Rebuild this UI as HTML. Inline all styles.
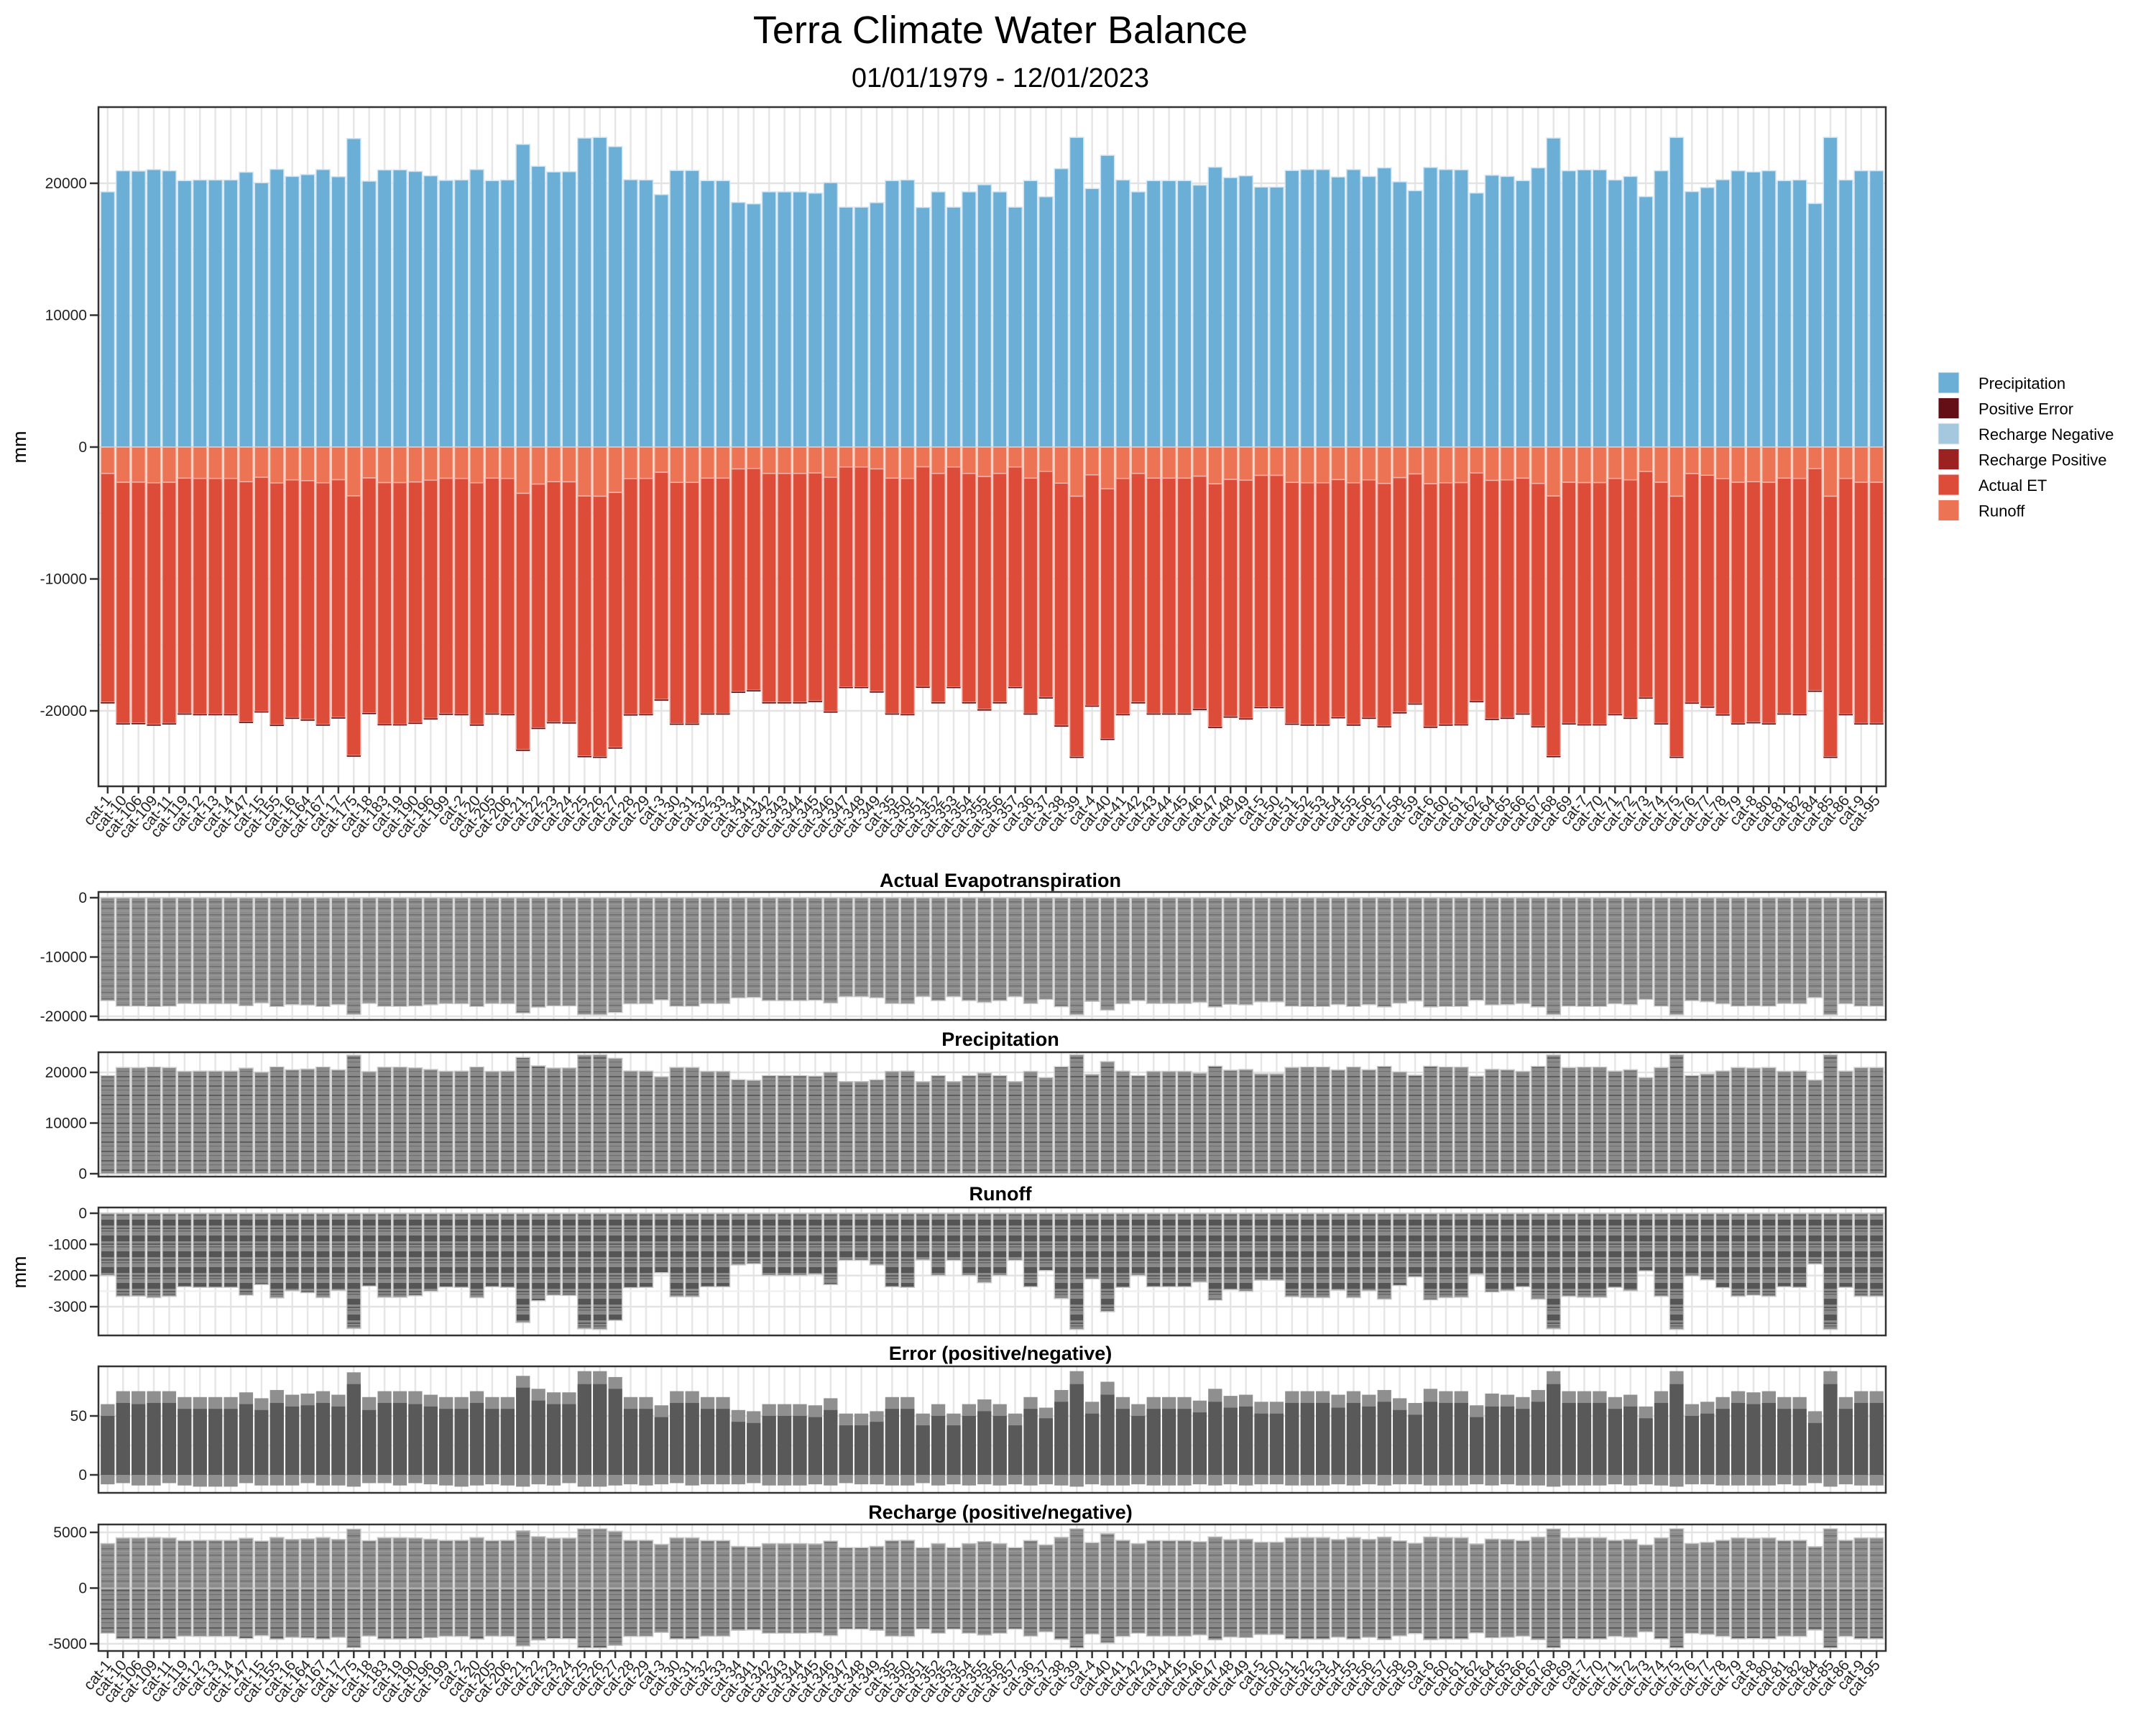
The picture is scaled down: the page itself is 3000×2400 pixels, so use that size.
<!DOCTYPE html>
<html><head><meta charset="utf-8"><title>Terra Climate Water Balance</title>
<style>html,body{margin:0;padding:0;background:#fff}svg{display:block;font-family:"Liberation Sans",Arial,sans-serif}</style>
</head><body>
<svg id="chart" xmlns="http://www.w3.org/2000/svg" width="3000" height="2400" viewBox="0 0 3000 2400">
<defs>
<pattern id="stripeLight" patternUnits="userSpaceOnUse" width="8" height="9"><rect width="8" height="9" fill="#8c8c8c"/><rect y="3" width="8" height="1.5" fill="#6e6e6e"/><rect y="7" width="8" height="1" fill="#9a9a9a"/></pattern>
<pattern id="stripePrecip" patternUnits="userSpaceOnUse" width="8" height="13"><rect width="8" height="13" fill="#8a8a8a"/><rect y="2" width="8" height="2" fill="#5e5e5e"/><rect y="8" width="8" height="1.2" fill="#707070"/></pattern>
<pattern id="stripeRunoff" patternUnits="userSpaceOnUse" width="8" height="22"><rect width="8" height="22" fill="#8a8a8a"/><rect y="3" width="8" height="8" fill="#555"/><rect y="14" width="8" height="2" fill="#5c5c5c"/><rect y="18" width="8" height="1.5" fill="#666"/></pattern>
</defs>
<text x="1392" y="60" font-size="54" text-anchor="middle" fill="#000">Terra Climate Water Balance</text>
<text x="1392" y="121" font-size="38" text-anchor="middle" fill="#000">01/01/1979 - 12/01/2023</text>
<g id="main"></g>
<g id="small"></g>
<g id="legend"></g>
</svg>
<script>
const categories = ["cat-1","cat-10","cat-106","cat-109","cat-11","cat-119","cat-12","cat-13","cat-14","cat-147","cat-15","cat-155","cat-16","cat-164","cat-167","cat-17","cat-175","cat-18","cat-183","cat-19","cat-190","cat-196","cat-199","cat-2","cat-20","cat-205","cat-206","cat-21","cat-22","cat-23","cat-24","cat-25","cat-26","cat-27","cat-28","cat-29","cat-3","cat-30","cat-31","cat-32","cat-33","cat-34","cat-341","cat-342","cat-343","cat-344","cat-345","cat-346","cat-347","cat-348","cat-349","cat-35","cat-350","cat-351","cat-352","cat-353","cat-354","cat-355","cat-356","cat-357","cat-36","cat-37","cat-38","cat-39","cat-4","cat-40","cat-41","cat-42","cat-43","cat-44","cat-45","cat-46","cat-47","cat-48","cat-49","cat-5","cat-50","cat-51","cat-52","cat-53","cat-54","cat-55","cat-56","cat-57","cat-58","cat-59","cat-6","cat-60","cat-61","cat-62","cat-64","cat-65","cat-66","cat-67","cat-68","cat-69","cat-7","cat-70","cat-71","cat-72","cat-73","cat-74","cat-75","cat-76","cat-77","cat-78","cat-79","cat-8","cat-80","cat-81","cat-82","cat-84","cat-85","cat-86","cat-9","cat-95"];
const precipitation = [19350,20950,20930,21040,20950,20200,20250,20250,20250,20840,20040,21060,20520,20660,21040,20500,23390,20160,21010,21020,20900,20570,20220,20250,21040,20200,20250,22950,21290,20860,20880,23430,23480,22780,20270,20250,19140,20970,20970,20200,20200,18550,18440,19350,19350,19350,19250,20050,18190,18190,18530,20200,20250,18170,19350,18190,19350,19890,19350,18190,20200,18980,21110,23480,19600,22120,20250,19350,20200,20200,20200,19860,21220,20430,20570,19710,19710,20970,21040,21040,20480,21040,20520,21170,20110,19440,21200,21040,21020,19260,20610,20520,20200,21170,23430,20950,21020,21020,20250,20520,18990,20950,23480,19370,19680,20270,20950,20860,20950,20200,20250,18470,23480,20250,20950,20950];
const runoff = [2000,2670,2660,2710,2670,2360,2380,2380,2380,2630,2290,2720,2490,2550,2710,2480,3700,2340,2700,2700,2650,2510,2370,2380,2710,2360,2380,3510,2810,2630,2640,3710,3730,3440,2390,2380,1910,2680,2680,2360,2360,1660,1620,2000,2000,2000,1960,2290,1510,1510,1660,2360,2380,1500,2000,1510,2000,2230,2000,1510,2360,1840,2740,3730,2110,3160,2380,2000,2360,2360,2360,2210,2790,2450,2510,2150,2150,2680,2710,2710,2470,2710,2490,2760,2320,2040,2780,2710,2700,1960,2530,2490,2360,2760,3710,2670,2700,2700,2380,2490,1850,2670,3730,2010,2140,2390,2670,2630,2670,2360,2380,1630,3730,2380,2670,2670];
const actualET = [17350,18280,18270,18330,18280,17840,17870,17870,17870,18210,17750,18340,18030,18110,18330,18020,19690,17820,18310,18320,18250,18060,17850,17870,18330,17840,17870,19440,18480,18230,18240,19720,19750,19340,17880,17870,17230,18290,18290,17840,17840,16890,16820,17350,17350,17350,17290,17760,16680,16680,16870,17840,17870,16670,17350,16680,17350,17660,17350,16680,17840,17140,18370,19750,17490,18960,17870,17350,17840,17840,17840,17650,18430,17980,18060,17560,17560,18290,18330,18330,18010,18330,18030,18410,17790,17400,18420,18330,18320,17300,18080,18030,17840,18410,19720,18280,18320,18320,17870,18030,17140,18280,19750,17360,17540,17880,18280,18230,18280,17840,17870,16840,19750,17870,18280,18280];
const errorPositive = [60,71,71,71,71,66,66,66,66,70,65,72,68,69,71,68,87,66,71,71,71,68,66,66,71,66,66,84,73,70,70,88,88,83,66,66,59,71,71,66,66,55,54,60,60,60,59,65,52,52,54,66,66,52,60,52,60,64,60,52,66,57,72,88,62,79,66,60,66,66,66,63,73,67,68,62,62,71,71,71,68,71,68,72,65,61,73,71,71,59,69,68,66,72,88,71,71,71,66,68,58,71,88,60,62,66,71,70,71,66,66,54,88,66,71,71];
const errorCore = [50,61,60,61,61,56,56,56,56,60,55,61,58,59,61,58,77,55,61,61,60,58,56,56,61,56,56,74,63,60,60,77,77,73,56,56,49,61,61,56,56,45,44,50,50,50,49,55,42,42,45,56,56,42,50,42,50,54,50,42,56,48,62,77,52,68,56,50,56,56,56,53,62,57,58,52,52,61,61,61,57,61,58,62,55,51,62,61,61,49,58,58,56,62,77,61,61,61,56,58,48,61,77,50,52,56,61,60,61,56,56,44,77,56,61,61];
const errorNegative = [-8,-7,-9,-9,-7,-9,-10,-10,-10,-7,-9,-9,-9,-7,-9,-9,-10,-7,-7,-9,-7,-8,-9,-10,-9,-8,-9,-10,-8,-9,-7,-10,-10,-9,-8,-9,-8,-7,-9,-8,-8,-8,-7,-9,-9,-9,-8,-9,-7,-8,-8,-9,-9,-7,-9,-8,-9,-8,-9,-8,-9,-8,-9,-10,-8,-9,-9,-8,-9,-9,-9,-8,-9,-8,-9,-8,-8,-9,-9,-9,-8,-9,-8,-9,-8,-8,-9,-9,-9,-8,-9,-8,-9,-9,-10,-9,-9,-9,-8,-9,-8,-9,-10,-8,-8,-9,-9,-9,-9,-8,-9,-7,-10,-8,-9,-9];
const rechargePositive = [4000,4510,4510,4540,4510,4270,4290,4290,4290,4480,4220,4550,4370,4420,4540,4370,5290,4260,4530,4530,4500,4390,4280,4290,4540,4270,4290,5150,4620,4480,4490,5310,5320,5100,4290,4290,3930,4520,4520,4270,4270,3740,3710,4000,4000,4000,3970,4220,3630,3630,3740,4270,4290,3620,4000,3630,4000,4170,4000,3630,4270,3880,4560,5320,4080,4890,4290,4000,4270,4270,4270,4160,4600,4350,4390,4120,4120,4520,4540,4540,4360,4540,4370,4580,4240,4030,4590,4540,4530,3970,4400,4370,4270,4580,5310,4510,4530,4530,4290,4370,3880,4510,5320,4010,4110,4290,4510,4480,4510,4270,4290,3720,5320,4290,4510,4510];
const rechargeNegative = [-4050,-4560,-4560,-4590,-4560,-4320,-4340,-4340,-4340,-4530,-4270,-4600,-4420,-4470,-4590,-4420,-5340,-4310,-4580,-4580,-4550,-4440,-4330,-4340,-4590,-4320,-4340,-5200,-4670,-4530,-4540,-5360,-5370,-5150,-4340,-4340,-3980,-4570,-4570,-4320,-4320,-3790,-3760,-4050,-4050,-4050,-4020,-4270,-3680,-3680,-3790,-4320,-4340,-3670,-4050,-3680,-4050,-4220,-4050,-3680,-4320,-3930,-4610,-5370,-4130,-4940,-4340,-4050,-4320,-4320,-4320,-4210,-4650,-4400,-4440,-4170,-4170,-4570,-4590,-4590,-4410,-4590,-4420,-4630,-4290,-4080,-4640,-4590,-4580,-4020,-4450,-4420,-4320,-4630,-5360,-4560,-4580,-4580,-4340,-4420,-3930,-4560,-5370,-4060,-4160,-4340,-4560,-4530,-4560,-4320,-4340,-3770,-5370,-4340,-4560,-4560];
const mainTicks = [20000,10000,0,-10000,-20000];
const etTicks = [0,-10000,-20000];
const precipTicks = [20000,10000,0];
const runoffTicks = [0,-1000,-2000,-3000];
const errorTicks = [50,0];
const rechargeTicks = [5000,0,-5000];
const legendLabels = ["Precipitation","Positive Error","Recharge Negative","Recharge Positive","Actual ET","Runoff"];
const legendColors = ["#6baed6","#640e15","#a6c8de","#9b2220","#dd4b39","#ec7354"];

const NS = "http://www.w3.org/2000/svg";
const PL = 137, PR = 2624;
const n = categories.length;
const step = (PR - PL) / (n - 1 + 1.2);
const xC = i => PL + step * (0.6 + i);
const bw = step * 0.9;

function mk(tag, attrs, parent, text) {
  const e = document.createElementNS(NS, tag);
  for (const k in attrs) e.setAttribute(k, attrs[k]);
  if (text !== undefined) e.textContent = text;
  parent.appendChild(e);
  return e;
}
function linScale(v0, p0, v1, p1) { return v => p0 + (v - v0) * (p1 - p0) / (v1 - v0); }

function drawFrame(g, top, bottom, y, ticks, name, minor) {
  const bg = mk('rect', {x: PL, y: top, width: PR - PL, height: bottom - top, fill: '#fff'}, g);
  
  
  for (let i = 0; i < n; i++) {
    const l = mk('line', {x1: xC(i), x2: xC(i), y1: top, y2: bottom, stroke: '#e6e6e6', 'stroke-width': 2.5}, g);
    
    
  }
  const all = ticks.slice();
  if (minor) for (let k = 0; k < ticks.length - 1; k++) all.push((ticks[k] + ticks[k + 1]) / 2);
  all.forEach((t, k) => {
    const yy = y(t);
    if (yy < top || yy > bottom) return;
    const l = mk('line', {x1: PL, x2: PR, y1: yy, y2: yy, stroke: k < ticks.length ? '#e3e3e3' : '#f0f0f0', 'stroke-width': 2.5}, g);
    
    
  });
}
function drawAxes(g, top, bottom, y, ticks, name, fs) {
  const fr = mk('rect', {x: PL, y: top, width: PR - PL, height: bottom - top, fill: 'none', stroke: '#333', 'stroke-width': 2.5}, g);
  
  
  ticks.forEach(t => {
    const yy = y(t);
    const tk = mk('line', {x1: PL - 12, x2: PL, y1: yy, y2: yy, stroke: '#333', 'stroke-width': 2.5}, g);
    
    
    const tl = mk('text', {x: PL - 16, y: yy + 7, 'font-size': fs || 21, 'text-anchor': 'end', fill: '#222'}, g, String(t));
    
    
  });
}
function drawXLabels(g, bottom) {
  for (let i = 0; i < n; i++) {
    const tk = mk('line', {x1: xC(i), x2: xC(i), y1: bottom, y2: bottom + 10, stroke: '#333', 'stroke-width': 2.5}, g);
    
    
    const t = mk('text', {x: xC(i) + 6, y: bottom + 20, 'font-size': 21, 'text-anchor': 'end', fill: '#222',
      transform: `rotate(-50 ${xC(i) + 6} ${bottom + 20})`}, g, categories[i]);
    
    
  }
}
function bar(g, i, y, v0, v1, fill, name, stroke) {
  const a = y(v0), b = y(v1);
  const r = mk('rect', {x: xC(i) - bw / 2, y: Math.min(a, b), width: bw, height: Math.abs(a - b), fill: fill,
    stroke: stroke || 'none', 'stroke-width': 1.5}, g);
  
  
  return r;
}

// ---------- main panel ----------
const main = document.getElementById('main');
const mTop = 149, mBot = 1094;
const yM = linScale(20000, 255, -20000, 989);
drawFrame(main, mTop, mBot, yM, mainTicks, 'main-panel', true);
for (let i = 0; i < n; i++) {
  bar(main, i, yM, 0, precipitation[i], '#6baed6', 'precipitation-bar', '#cfe3f0');
  bar(main, i, yM, 0, -runoff[i], '#ec7354', 'runoff-bar', '#f6c2b2');
  bar(main, i, yM, -runoff[i], -(runoff[i] + actualET[i]), '#dd4b39', 'actual-et-bar', '#f1b3aa');
  bar(main, i, yM, -(runoff[i] + actualET[i]), -(runoff[i] + actualET[i]) - 90, '#640e15', 'positive-error-bar');
}
drawAxes(main, mTop, mBot, yM, mainTicks, 'main-panel');
drawXLabels(main, mBot);
const mt = mk('text', {x: 0, y: 0, 'font-size': 27, 'text-anchor': 'middle', transform: 'translate(36 622) rotate(-90)'}, main, 'mm');



// ---------- small panels ----------
const small = document.getElementById('small');
function panel(title, top, bottom, y, ticks, name, drawBars, titleY) {
  const g = mk('g', {}, small);
  
  
  drawFrame(g, top, bottom, y, ticks, name, true);
  drawBars(g);
  drawAxes(g, top, bottom, y, ticks, name);
  const t = mk('text', {x: 1392, y: titleY, 'font-size': 27, 'font-weight': 'bold', 'text-anchor': 'middle', fill: '#000'}, g, title);
  
  
  return g;
}
const yET = linScale(0, 1249, -20000, 1414);
panel('Actual Evapotranspiration', 1241, 1419, yET, etTicks, 'et-panel', g => {
  for (let i = 0; i < n; i++) bar(g, i, yET, 0, -actualET[i], 'url(#stripeLight)', 'et-bar', '#c8c8c8');
}, 1234);
const yP = linScale(20000, 1492, 0, 1633);
panel('Precipitation', 1464, 1637, yP, precipTicks, 'precip-panel', g => {
  for (let i = 0; i < n; i++) bar(g, i, yP, 0, precipitation[i], 'url(#stripePrecip)', 'precip-bar', '#c8c8c8');
}, 1455);
const yR = linScale(0, 1688, -3000, 1818);
panel('Runoff', 1680, 1858, yR, runoffTicks, 'runoff-panel', g => {
  for (let i = 0; i < n; i++) bar(g, i, yR, 0, -runoff[i], 'url(#stripeRunoff)', 'runoff-small-bar', '#c8c8c8');
}, 1670);
const yE = linScale(50, 1970, 0, 2052);
panel('Error (positive/negative)', 1901, 2077, yE, errorTicks, 'error-panel', g => {
  for (let i = 0; i < n; i++) {
    bar(g, i, yE, 0, errorPositive[i], '#8f8f8f', 'error-positive-bar');
    bar(g, i, yE, 0, errorCore[i], '#595959', 'error-core-bar');
    bar(g, i, yE, 0, errorNegative[i], '#8f8f8f', 'error-negative-bar');
  }
}, 1892);
const yRc = linScale(5000, 2132, -5000, 2287);
panel('Recharge (positive/negative)', 2121, 2297, yRc, rechargeTicks, 'recharge-panel', g => {
  for (let i = 0; i < n; i++) {
    bar(g, i, yRc, 0, rechargePositive[i], 'url(#stripeLight)', 'recharge-positive-bar', '#c8c8c8');
    bar(g, i, yRc, 0, rechargeNegative[i], 'url(#stripePrecip)', 'recharge-negative-bar', '#c8c8c8');
  }
}, 2113);
drawXLabels(small, 2297);
const st = mk('text', {x: 0, y: 0, 'font-size': 27, 'text-anchor': 'middle', transform: 'translate(36 1770) rotate(-90)'}, small, 'mm');



// ---------- legend ----------
const lg = document.getElementById('legend');
legendLabels.forEach((lab, k) => {
  const cy = 533 + k * 35.5;
  const e = mk('g', {}, lg);
  
  
  const r = mk('rect', {x: 2697, y: cy - 15, width: 29, height: 29, fill: legendColors[k], stroke: '#eee', 'stroke-width': 1}, e);
  
  
  const t = mk('text', {x: 2753, y: cy + 8, 'font-size': 22, fill: '#000'}, e, lab);
  
  
});
</script>
</body></html>
